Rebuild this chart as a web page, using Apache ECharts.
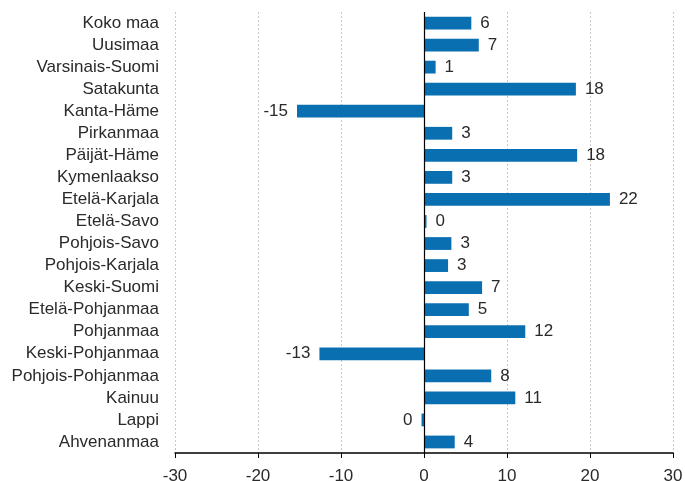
<!DOCTYPE html>
<html>
<head>
<meta charset="utf-8">
<script src="https://cdn.jsdelivr.net/npm/echarts@6/dist/echarts.min.js"></script>
<style>html,body{margin:0;padding:0;background:#fff;}#c{width:685px;height:481px;}</style>
</head>
<body>
<div id="c"></div>
<script>
var categories = ["Koko maa","Uusimaa","Varsinais-Suomi","Satakunta","Kanta-Häme","Pirkanmaa","Päijät-Häme","Kymenlaakso","Etelä-Karjala","Etelä-Savo","Pohjois-Savo","Pohjois-Karjala","Keski-Suomi","Etelä-Pohjanmaa","Pohjanmaa","Keski-Pohjanmaa","Pohjois-Pohjanmaa","Kainuu","Lappi","Ahvenanmaa"];
var values = [5.7,6.6,1.4,18.3,-15.3,3.4,18.45,3.4,22.4,0.3,3.3,2.9,7.0,5.4,12.2,-12.6,8.1,11.0,-0.3,3.7];
var xTicks = [-30,-20,-10,0,10,20,30];

var chart = echarts.init(document.getElementById('c'), null, {renderer:'canvas'});
var font = 'Liberation Sans, Arial, sans-serif';
chart.setOption({
  animation:false,
  backgroundColor:'#ffffff',
  grid:{left:175,right:12,top:12,bottom:28,containLabel:false,outerBoundsMode:'none'},
  xAxis:{
    type:'value', min:xTicks[0], max:xTicks[xTicks.length-1], interval:10,
    axisLine:{show:true,onZero:false,lineStyle:{color:'#000',width:1.5}},
    axisTick:{show:true,length:5,lineStyle:{color:'#000'}},
    axisLabel:{color:'#2a2a2a',fontFamily:font,fontSize:17,margin:15,hideOverlap:false},
    splitLine:{show:true,lineStyle:{color:'#c8c8c8',type:[2,2],width:1}}
  },
  yAxis:{
    type:'category', data:categories, inverse:true,
    axisLine:{show:false}, axisTick:{show:false},
    axisLabel:{interval:0,hideOverlap:false,color:'#2a2a2a',fontFamily:font,fontSize:17,margin:16,padding:[2,0,0,0]},
    splitLine:{show:false}
  },
  series:[{
    type:'bar',
    data:values.map(function(v){
      return {value:v,label:{position:v<0?'left':'right'}};
    }),
    barWidth:'58%',
    itemStyle:{color:'#0a6fb0'},
    label:{show:true,distance:9,color:'#2a2a2a',fontFamily:font,fontSize:17,padding:[2,0,0,0],
      formatter:function(p){var r=Math.round(p.value);return (r===0?0:r)+'';}},
    labelLayout:{hideOverlap:false},
    markLine:{silent:true,symbol:'none',label:{show:false},
      lineStyle:{color:'#000',type:'solid',width:1.2},
      data:[{xAxis:0}]}
  }]
});
</script>
</body>
</html>
